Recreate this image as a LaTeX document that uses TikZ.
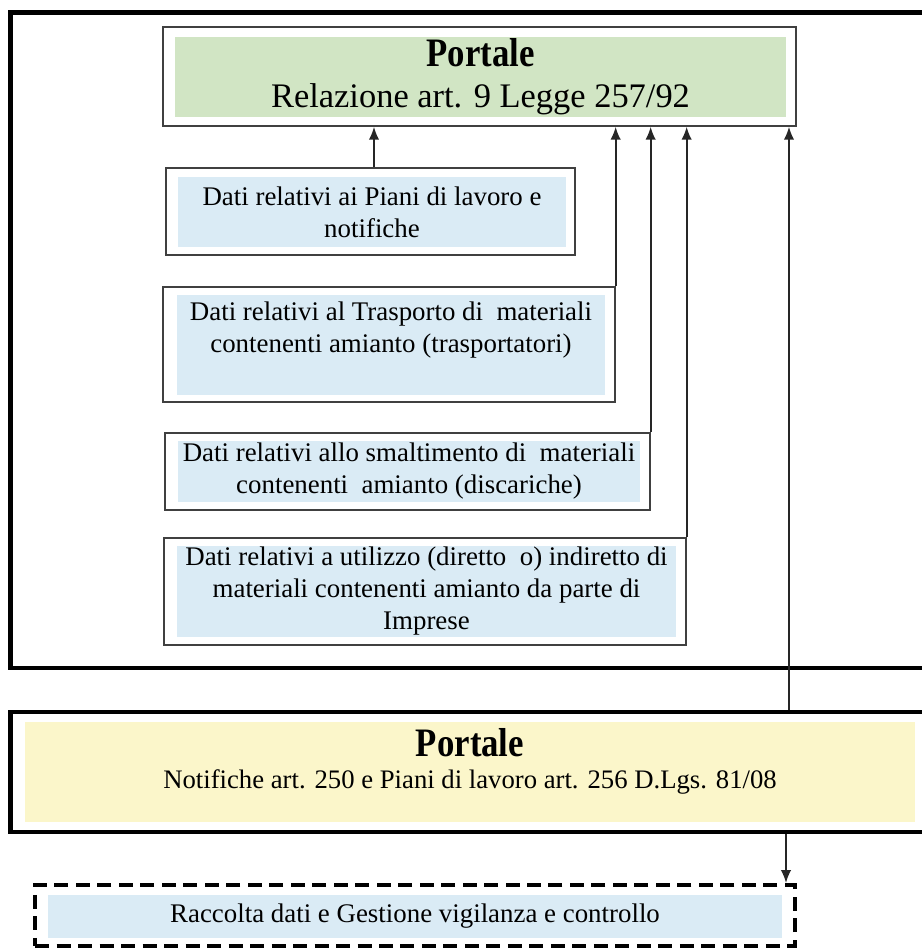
\documentclass[tikz,border=0pt]{standalone}
\usepackage{fontspec}
\setmainfont{Liberation Serif}
\newfontfamily\condfont{Liberation Serif}[FakeStretch=0.86]
\usepackage{xcolor}
\usetikzlibrary{arrows.meta,positioning,calc}
\definecolor{portgreen}{HTML}{D1E5C4}
\definecolor{datiblue}{HTML}{DAEBF5}
\definecolor{notyellow}{HTML}{FBF6CA}
\begin{document}
\begin{tikzpicture}[x=0.02cm, y=-0.02cm,
    frame/.style={draw=black, line width=2.8pt},
    box/.style={draw=black!75, line width=0.8pt, inner sep=0pt},
    dati/.style={fill=datiblue, inner sep=0pt, align=center,
                 font=\fontsize{15.3}{18.2}\selectfont},
    arr/.style={-{Latex[length=2.6mm, width=2.1mm]}, line width=1.1pt, draw=black!85},
  ]
    \useasboundingbox (0,0) rectangle (921,948);
    % upper frame
    \draw[frame] (10.5,12.5) rectangle (940,668);
    \node[box, minimum width=12.66cm, minimum height=1.98cm] (portF) at (479.5,76.5) {};
    \node[fill=portgreen, inner sep=0pt, align=center, minimum width=12.22cm, minimum height=1.60cm,
          font=\fontsize{19.6}{23.2}\selectfont] (portB) at (480.5,77)
          {{\condfont\fontsize{23}{23.2}\selectfont\bfseries Portale}\\Relazione art. 9 Legge 257/92};
    % data boxes
    \node[box, minimum width=8.18cm, minimum height=1.74cm] (pianiF) at (370.5,211.5) {};
    \node[dati, minimum width=7.76cm, minimum height=1.40cm] (pianiB) at (372,212)
          {Dati relativi ai Piani di lavoro e\\notifiche};
    \node[box, minimum width=9.04cm, minimum height=2.30cm] (trasF) at (389,344.5) {};
    \node[dati, minimum width=8.56cm, minimum height=2.00cm] (trasB) at (391,345)
          {Dati relativi al Trasporto di\ \ materiali\\contenenti amianto (trasportatori)\\[2pt]~};
    \node[box, minimum width=9.70cm, minimum height=1.54cm] (smaltF) at (407.5,471.5) {};
    \node[dati, minimum width=9.24cm, minimum height=1.22cm] (smaltB) at (409,471.5)
          {Dati relativi allo smaltimento di\ \ materiali\\contenenti\ \ amianto (discariche)};
    \node[box, minimum width=10.44cm, minimum height=2.14cm] (utilF) at (425,591.5) {};
    \node[dati, minimum width=9.98cm, minimum height=1.82cm] (utilB) at (426.5,591.5)
          {Dati relativi a utilizzo (diretto\ \ o) indiretto di\\materiali contenenti amianto da parte di\\Imprese};
    % lower portal
    \node[frame, inner sep=0pt, minimum width=18.6cm, minimum height=2.40cm] (yelF) at (475,772) {};
    \node[fill=notyellow, inner sep=0pt, minimum width=17.8cm, minimum height=2.0cm] (yelB) at (470,772) {};
    \node[align=center, font=\fontsize{15.2}{18.2}\selectfont] (yelT) at (470,761)
          {{\condfont\fontsize{23}{18.2}\selectfont\bfseries Portale}\\Notifiche art. 250 e Piani di lavoro art. 256 D.Lgs. 81/08};
    % collection box
    \node[draw=black, line width=2.2pt, dash pattern=on 0.28cm off 0.15cm, inner sep=0pt,
          minimum width=15.2cm, minimum height=1.22cm] (dashF) at (415,915.5) {};
    \node[dati, minimum width=14.68cm, minimum height=0.86cm] (dashB) at (415,916.5)
          {Raccolta dati e Gestione vigilanza e controllo};
    % connectors
    \coordinate (up) at (789,0);
    \coordinate (down) at (786,0);
    \draw[arr] ([xshift=0.07cm]pianiF.north) -- ([xshift=0.07cm]pianiF.north |- portF.south);
    \draw[arr] (trasF.north east) -- (trasF.north east |- portF.south);
    \draw[arr] (smaltF.north east) -- (smaltF.north east |- portF.south);
    \draw[arr] (utilF.north east) -- (utilF.north east |- portF.south);
    \draw[arr] (yelF.north -| up) -- (portF.south -| up);
    \draw[arr] (yelF.south -| down) -- (dashF.north -| down);
  \end{tikzpicture}
\end{document}
